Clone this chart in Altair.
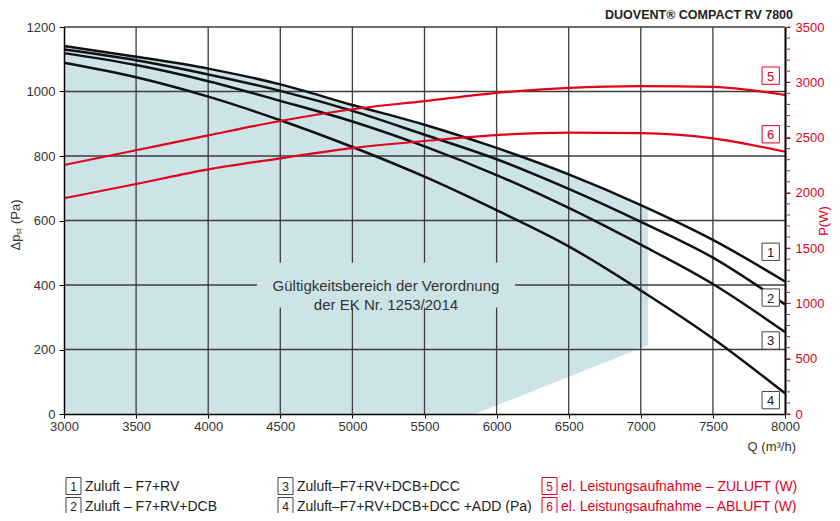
import altair as alt
import pandas as pd

FONT = "Liberation Sans"
RED = "#e3001b"
SHADE = "#cce4e8"
GRID = "#3d3d3d"

# ---- data ----
Q = [3000, 3500, 4000, 4500, 5000, 5500, 6000, 6500, 7000, 7500, 8000]
curve1 = [1141, 1108, 1071, 1022, 958, 897, 825, 743, 648, 540, 411]
curve2 = [1130, 1097, 1053, 1002, 940, 866, 790, 698, 596, 485, 340]
curve3 = [1119, 1082, 1032, 971, 907, 830, 741, 639, 525, 403, 254]
curve4 = [1089, 1044, 984, 911, 828, 736, 632, 520, 383, 234, 64]
power_zuluft = [2252, 2385, 2520, 2650, 2756, 2830, 2905, 2950, 2966, 2958, 2885]
power_abluft = [1951, 2080, 2213, 2312, 2405, 2469, 2523, 2544, 2540, 2493, 2372]

# validity region (Gültigkeitsbereich)
region_q = [3000, 3500, 4000, 4500, 5000, 5500, 6000, 6500, 7000, 7050]
region_top = [1141, 1108, 1071, 1022, 958, 897, 825, 743, 648, 637]
cut_q = [5850, 7050]
cut_pa = [0, 213]

x_ticks = [3000, 3500, 4000, 4500, 5000, 5500, 6000, 6500, 7000, 7500, 8000]
pa_ticks = [0, 200, 400, 600, 800, 1000, 1200]
pw_ticks = [0, 500, 1000, 1500, 2000, 2500, 3000, 3500]
pw_minor = list(range(0, 3600, 100))

curve_nums = ["1", "2", "3", "4"]
curve_label_pa = [503, 361, 228, 43]
power_nums = ["5", "6"]
power_label_w = [3060, 2530]
label_q = 7901

legend_nums = ["1", "2", "3", "4", "5", "6"]
legend_texts = [
    "Zuluft \u2013 F7+RV",
    "Zuluft \u2013 F7+RV+DCB",
    "Zuluft\u2013F7+RV+DCB+DCC",
    "Zuluft\u2013F7+RV+DCB+DCC +ADD (Pa)",
    "el. Leistungsaufnahme \u2013 ZULUFT (W)",
    "el. Leistungsaufnahme \u2013 ABLUFT (W)",
]

W, H = 721, 387

# ---- scales / axes ----
xax = alt.Axis(values=x_ticks, format="d", labelFontSize=13, labelColor="#333", labelFont=FONT,
               tickColor="#000", tickSize=4, tickWidth=1, domainColor="#000", domainWidth=1.5,
               labelPadding=2, grid=False, labelFlush=False, labelOverlap=False, zindex=1)
xsc = alt.Scale(domain=[3000, 8000], nice=False, zero=False)

def X(f):
    return alt.X(f"{f}:Q", scale=xsc, axis=xax, title=None)

yax_pa = alt.Axis(orient="left", values=pa_ticks, format="d", labelFontSize=13, labelColor="#333",
                  labelFont=FONT, tickColor="#000", tickSize=5, tickWidth=1, domainColor="#000",
                  domainWidth=1.5, labelPadding=4, grid=False, labelOverlap=False, zindex=1)
ysc_pa = alt.Scale(domain=[0, 1200], nice=False)

def YPa(f):
    return alt.Y(f"{f}:Q", scale=ysc_pa, axis=yax_pa, title=None)

yax_pw = alt.Axis(orient="right", values=pw_ticks, format="d", labelFontSize=13, labelColor=RED,
                  labelFont=FONT, tickColor=RED, tickSize=5, tickWidth=1, domainColor="#000",
                  domainWidth=2, labelPadding=5, grid=False, labelOverlap=False, zindex=1)
ysc_pw = alt.Scale(domain=[0, 3500], nice=False)

def YPw(f):
    return alt.Y(f"{f}:Q", scale=ysc_pw, axis=yax_pw, title=None)


def ptext(txt, px, py, **kw):
    return alt.Chart(pd.DataFrame({"t": [txt]})).mark_text(font=FONT, **kw).encode(
        x=alt.value(px), y=alt.value(py), text="t:N")


def prect(x1, x2, y1, y2, **kw):
    return alt.Chart(pd.DataFrame({"t": [0]})).mark_rect(**kw).encode(
        x=alt.value(x1), x2=alt.value(x2), y=alt.value(y1), y2=alt.value(y2))


# ---- tables ----
pa_rows = []
for name, vals in zip(curve_nums, [curve1, curve2, curve3, curve4]):
    for q, v in zip(Q, vals):
        pa_rows.append({"Q": q, "Pa": v, "series": name})
pa_df = pd.DataFrame(pa_rows)

pw_rows = []
for name, vals in zip(power_nums, [power_zuluft, power_abluft]):
    for q, v in zip(Q, vals):
        pw_rows.append({"Q": q, "W": v, "series": name})
pw_df = pd.DataFrame(pw_rows)

region_df = pd.DataFrame({"Q": region_q, "Pa": region_top})
cut_df = pd.DataFrame({"Q": cut_q, "Pa": cut_pa})
vgrid_df = pd.DataFrame({"Q": x_ticks[1:-1]})
hgrid_df = pd.DataFrame({"Pa": pa_ticks[1:]})
lab_df = pd.DataFrame({"Q": [label_q] * 4, "Pa": curve_label_pa, "n": curve_nums})
plab_df = pd.DataFrame({"Q": [label_q] * 2, "W": power_label_w, "n": power_nums})
minor_df = pd.DataFrame({"W": pw_minor})
box_df = pd.DataFrame({"Q": [4338], "Q2": [6128], "Pa": [469], "Pa2": [330]})
boxtxt_df = pd.DataFrame({"Q": [5233], "Pa": [396]})

# ---- layers (Pa scale) ----
area = alt.Chart(region_df).mark_area(color=SHADE, interpolate="monotone").encode(x=X("Q"), y=YPa("Pa"))
cut = alt.Chart(cut_df).mark_area(color="white").encode(x=X("Q"), y=YPa("Pa"))
vgrid = alt.Chart(vgrid_df).mark_rule(color=GRID, strokeWidth=1.3).encode(x=X("Q"))
hgrid = alt.Chart(hgrid_df).mark_rule(color=GRID, strokeWidth=1.3).encode(y=YPa("Pa"))
box = alt.Chart(box_df).mark_rect(color=SHADE).encode(
    x=X("Q"), x2="Q2", y=YPa("Pa"), y2="Pa2")
boxtxt = alt.Chart(boxtxt_df).mark_text(
    text=["G\u00fcltigkeitsbereich der Verordnung", "der EK Nr. 1253/2014"],
    font=FONT, fontSize=15, color="#333", lineHeight=19, align="center", baseline="middle"
).encode(x=X("Q"), y=YPa("Pa"))
curves = alt.Chart(pa_df).mark_line(color="#111", strokeWidth=2.5, interpolate="monotone").encode(
    x=X("Q"), y=YPa("Pa"), detail="series:N")
lab_sq = alt.Chart(lab_df).mark_square(size=300, fill="white", stroke="#444", strokeWidth=1, opacity=1).encode(
    x=X("Q"), y=YPa("Pa"))
lab_tx = alt.Chart(lab_df).mark_text(font=FONT, fontSize=13, color="#222", baseline="middle", dy=1).encode(
    x=X("Q"), y=YPa("Pa"), text="n:N")

title = ptext("DUOVENT\u00ae COMPACT RV 7800", 729, -12, fontSize=12.5, fontWeight="bold",
              color="#222", align="right", baseline="middle")
ytitle = ptext("\u0394p\u209b\u209c (Pa)", -48, 198, fontSize=13, color="#333", angle=270,
               align="center", baseline="middle")
xtitle = ptext("Q (m\u00b3/h)", 732, 420, fontSize=13, color="#333", align="right", baseline="middle")

legend_layers = []
col_x = [2, 214, 478]
row_y = [459, 479]
for i, (num, txt) in enumerate(zip(legend_nums, legend_texts)):
    c, r = i // 2, i % 2
    col = RED if c == 2 else "#222"
    bx, cy = col_x[c], row_y[r]
    legend_layers.append(prect(bx, bx + 15, cy - 8.5, cy + 8.5, fill="white",
                               stroke=(RED if c == 2 else "#444"), strokeWidth=1))
    legend_layers.append(ptext(num, bx + 7.5, cy + 1, fontSize=12, color=col, align="center", baseline="middle"))
    legend_layers.append(ptext(txt, bx + 19, cy + 1, fontSize=14, color=col, align="left", baseline="middle"))

pa_group = alt.layer(area, cut, vgrid, hgrid, box, boxtxt, curves, lab_sq, lab_tx,
                     title, ytitle, xtitle, *legend_layers)

# ---- layers (W scale) ----
pcurves = alt.Chart(pw_df).mark_line(color=RED, strokeWidth=2.2, interpolate="monotone").encode(
    x=X("Q"), y=YPw("W"), detail="series:N")
plab_sq = alt.Chart(plab_df).mark_square(size=300, fill="white", stroke=RED, strokeWidth=1, opacity=1).encode(
    x=X("Q"), y=YPw("W"))
plab_tx = alt.Chart(plab_df).mark_text(font=FONT, fontSize=13, color=RED, baseline="middle", dy=1).encode(
    x=X("Q"), y=YPw("W"), text="n:N")
minor = alt.Chart(minor_df).mark_rule(color=RED, strokeWidth=1).encode(
    x=alt.value(W + 2), x2=alt.value(W + 5), y=YPw("W"))
ptitle = ptext("P(W)", 760, 194, fontSize=13, color=RED, angle=270, align="center", baseline="middle")

pw_group = alt.layer(pcurves, plab_sq, plab_tx, minor, ptitle)

chart = alt.layer(pa_group, pw_group).resolve_scale(y="independent").properties(
    width=W, height=H,
    autosize=alt.AutoSizeParams(type="none"),
    padding={"left": 56, "top": 19, "right": 47, "bottom": 99},
).configure_view(stroke=None)

chart.save("out.html", embed_options={"renderer": "svg", "actions": False})
